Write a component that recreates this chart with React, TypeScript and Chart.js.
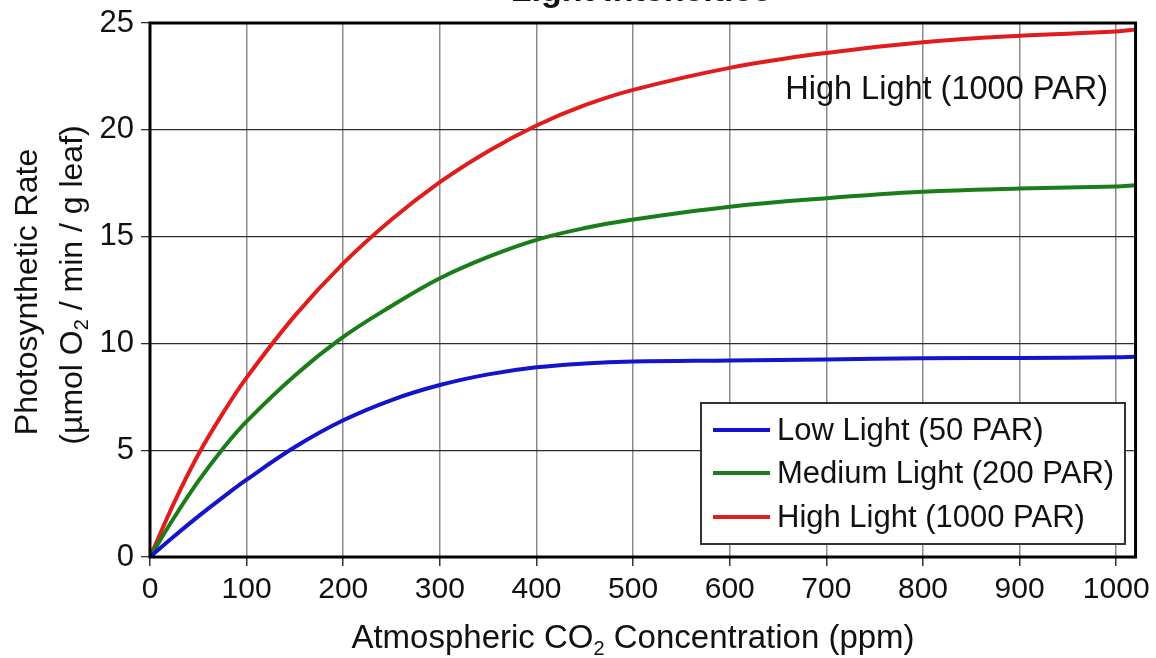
import React, { useEffect, useRef } from "react";
import { Chart, registerables } from "chart.js";

Chart.register(...registerables);

const co2Ppm = [0, 25, 50, 75, 100, 150, 200, 250, 300, 350, 400, 450, 500, 600, 700, 800, 900, 1000, 1020];
const lowLight = [0, 0.97, 1.9, 2.78, 3.62, 5.15, 6.4, 7.35, 8.05, 8.55, 8.88, 9.06, 9.15, 9.2, 9.25, 9.3, 9.32, 9.35, 9.38];
const mediumLight = [0, 1.85, 3.55, 5.05, 6.35, 8.5, 10.3, 11.75, 13.05, 14.05, 14.85, 15.4, 15.8, 16.4, 16.8, 17.1, 17.25, 17.35, 17.4];
const highLight = [0, 2.55, 4.8, 6.7, 8.4, 11.3, 13.75, 15.8, 17.55, 19.0, 20.2, 21.15, 21.87, 22.9, 23.6, 24.1, 24.4, 24.6, 24.7];
const seriesLabels = ["Low Light (50 PAR)", "Medium Light (200 PAR)", "High Light (1000 PAR)"];
const seriesColors = ["#1414cc", "#1a7d1a", "#e01c1c"];
const xTicks = [0, 100, 200, 300, 400, 500, 600, 700, 800, 900, 1000];
const yTicks = [0, 5, 10, 15, 20, 25];
const chartTitle = "Light Intensities";
const annotationText = "High Light (1000 PAR)";

const FONT = "'Liberation Sans', Arial, sans-serif";

function measureParts(ctx: CanvasRenderingContext2D, parts: [string, boolean][], size: number) {
  let w = 0;
  for (const [t, sub] of parts) {
    ctx.font = `${sub ? Math.round(size * 0.62) : size}px ${FONT}`;
    w += ctx.measureText(t).width;
  }
  return w;
}

function drawParts(ctx: CanvasRenderingContext2D, parts: [string, boolean][], size: number, cx: number, baseY: number) {
  const total = measureParts(ctx, parts, size);
  let x = cx - total / 2;
  ctx.textAlign = "left";
  ctx.textBaseline = "alphabetic";
  for (const [t, sub] of parts) {
    ctx.font = `${sub ? Math.round(size * 0.62) : size}px ${FONT}`;
    ctx.fillText(t, x, sub ? baseY + size * 0.2 : baseY);
    x += ctx.measureText(t).width;
  }
}

const decorPlugin = {
  id: "decor",
  afterDraw(chart: any) {
    const ctx: CanvasRenderingContext2D = chart.ctx;
    const a = chart.chartArea;
    ctx.save();
    // frame
    ctx.strokeStyle = "#000";
    ctx.lineWidth = 3;
    ctx.strokeRect(a.left, a.top, a.right - a.left, a.bottom - a.top);

    ctx.fillStyle = "#111";
    // top title (clipped by the page top)
    ctx.font = `bold 34px ${FONT}`;
    ctx.textAlign = "center";
    ctx.textBaseline = "alphabetic";
    ctx.fillText(chartTitle, 641, 1);

    // annotation
    ctx.font = `32.5px ${FONT}`;
    ctx.textAlign = "right";
    ctx.textBaseline = "middle";
    ctx.fillText(annotationText, 1108, 90);

    // x axis title
    drawParts(ctx, [["Atmospheric CO", false], ["2", true], [" Concentration (ppm)", false]], 33, 633, 648);

    // y axis title
    ctx.save();
    ctx.rotate(-Math.PI / 2);
    drawParts(ctx, [["Photosynthetic Rate", false]], 32, -292, 37);
    drawParts(ctx, [["(µmol O", false], ["2", true], [" / min / g leaf)", false]], 32, -285, 82);
    ctx.restore();

    // legend
    const bx = 701, by = 403, bw = 424, bh = 141;
    ctx.fillStyle = "#fff";
    ctx.fillRect(bx, by, bw, bh);
    ctx.strokeStyle = "#333";
    ctx.lineWidth = 2;
    ctx.strokeRect(bx, by, bw, bh);
    const rows = [430, 473, 517];
    chart.data.datasets.forEach((ds: any, i: number) => {
      ctx.strokeStyle = ds.borderColor;
      ctx.lineWidth = 4;
      ctx.beginPath();
      ctx.moveTo(713, rows[i]);
      ctx.lineTo(770, rows[i]);
      ctx.stroke();
      ctx.fillStyle = "#111";
      ctx.font = `31px ${FONT}`;
      ctx.textAlign = "left";
      ctx.textBaseline = "middle";
      ctx.fillText(ds.label, 777, rows[i] + 1);
    });
    ctx.restore();
  },
};

export default function App() {
  const ref = useRef<HTMLCanvasElement | null>(null);
  useEffect(() => {
    if (!ref.current) return;
    const ys = [lowLight, mediumLight, highLight];
    const chart = new Chart(ref.current, {
      type: "line",
      data: {
        datasets: ys.map((arr, i) => ({
          label: seriesLabels[i],
          data: co2Ppm.map((x, j) => ({ x, y: arr[j] })),
          borderColor: seriesColors[i],
          backgroundColor: seriesColors[i],
          borderWidth: 4,
          pointRadius: 0,
          tension: 0.4,
          fill: false,
        })),
      },
      options: {
        animation: false,
        responsive: false,
        maintainAspectRatio: false,
        layout: { padding: { top: 23, right: 20, left: 0, bottom: 0 } },
        plugins: { legend: { display: false }, tooltip: { enabled: false }, title: { display: false } },
        scales: {
          x: {
            type: "linear",
            min: 0,
            max: 1020,
            afterBuildTicks: (s: any) => {
              s.ticks = xTicks.map((v) => ({ value: v }));
            },
            afterFit: (s: any) => {
              s.height = 101;
            },
            ticks: {
              font: { size: 30, family: FONT },
              color: "#111",
              padding: 6,
              maxRotation: 0,
              autoSkip: false,
              callback: (v: any) => String(v),
            },
            grid: { color: "#8c8c8c", lineWidth: 1.5, tickLength: 9, tickColor: "#333", drawTicks: true },
            border: { display: false },
          },
          y: {
            type: "linear",
            min: 0,
            max: 25,
            afterBuildTicks: (s: any) => {
              s.ticks = yTicks.map((v) => ({ value: v }));
            },
            afterFit: (s: any) => {
              s.width = 150;
            },
            ticks: {
              font: { size: 31, family: FONT, lineHeight: 1 },
              color: "#111",
              padding: 7,
              callback: (v: any) => String(v),
            },
            grid: { color: "#2e2e2e", lineWidth: 1.3, tickLength: 9, tickColor: "#333", drawTicks: true },
            border: { display: false },
          },
        },
      },
      plugins: [decorPlugin],
    });
    return () => chart.destroy();
  }, []);
  return (
    <div style={{ position: "fixed", left: 0, top: 0, width: 1156, height: 658, background: "#fff" }}>
      <canvas ref={ref} width={1156} height={658} style={{ width: 1156, height: 658, display: "block" }} />
    </div>
  );
}
